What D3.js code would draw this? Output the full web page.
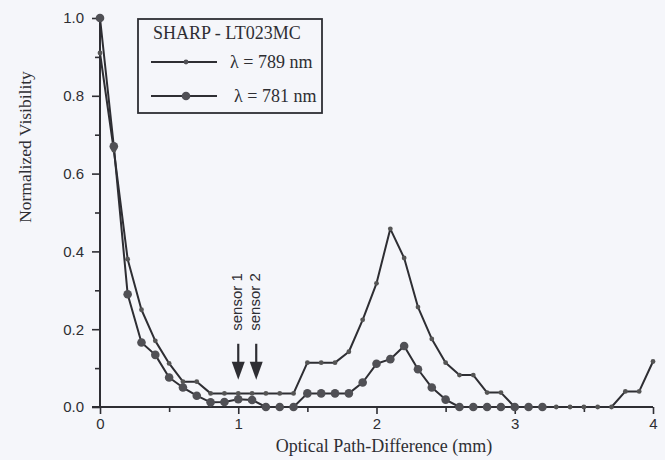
<!DOCTYPE html>
<html>
<head>
<meta charset="utf-8">
<script src="https://cdn.jsdelivr.net/npm/d3@7/dist/d3.min.js"></script>
<style>
  html, body { margin: 0; padding: 0; background: #f5f6fa; }
  svg { display: block; }
</style>
</head>
<body>
<script>
// ---- data ----
const opd789 = [0.0,0.1,0.2,0.3,0.4,0.5,0.6,0.7,0.8,0.9,1.0,1.1,1.2,1.3,1.4,1.5,1.6,1.7,1.8,1.9,2.0,
                2.1,2.2,2.3,2.4,2.5,2.6,2.7,2.8,2.9,3.0,3.1,3.2,3.3,3.4,3.5,3.6,3.7,3.8,3.9,4.0];
const vis789 = [0.91,0.66,0.38,0.25,0.17,0.112,0.065,0.065,0.035,0.035,0.035,0.035,0.035,0.035,0.035,
                0.114,0.114,0.114,0.142,0.224,0.318,0.458,0.383,0.257,0.175,0.114,0.082,0.082,0.037,0.037,
                0.0,0.0,0.0,0.0,0.0,0.0,0.0,0.0,0.04,0.04,0.117];
const opd781 = [0.0,0.1,0.2,0.3,0.4,0.5,0.6,0.7,0.8,0.9,1.0,1.1,1.2,1.3,1.4,1.5,1.6,1.7,1.8,1.9,2.0,
                2.1,2.2,2.3,2.4,2.5,2.6,2.7,2.8,2.9,3.0,3.1,3.2];
const vis781 = [1.0,0.67,0.29,0.166,0.134,0.076,0.05,0.029,0.012,0.013,0.02,0.018,0.0,0.0,0.0,
                0.035,0.035,0.035,0.035,0.063,0.111,0.123,0.157,0.097,0.05,0.019,0.0,0.0,0.0,0.0,0.0,0.0,0.0];
const xMajorTicks = [0,1,2,3,4];
const xMinorTicks = [0.5,1.5,2.5,3.5];
const yMajorTicks = [0,0.2,0.4,0.6,0.8,1.0];
const yMinorTicks = [0.1,0.3,0.5,0.7,0.9];
const legendTitle = "SHARP - LT023MC";
const seriesNames = ["\u03BB = 789 nm", "\u03BB = 781 nm"];
const sensorLabels = ["sensor 1", "sensor 2"];
const sensorOpd = [1.0, 1.13];
const sensorTip = 0.07;
const xTitle = "Optical Path-Difference (mm)";
const yTitle = "Normalized Visibility";

// ---- drawing ----
const W = 665, H = 460;
const ink = "#2e2e33";
const sans = "'Liberation Sans', Arial, sans-serif";
const serif = "'Liberation Serif', 'Times New Roman', serif";

const svg = d3.select("body").append("svg").attr("width", W).attr("height", H);
svg.append("rect").attr("width", W).attr("height", H).attr("fill", "#f5f6fa");

const x = d3.scaleLinear().domain([0, 4]).range([100, 653]);
const y = d3.scaleLinear().domain([0, 1]).range([407, 18]);

// axes
function styleAxis(g) {
  g.select(".domain").attr("stroke", ink).attr("stroke-width", 2);
  g.selectAll(".tick line").attr("stroke", ink).attr("stroke-width", 1.6);
  g.selectAll(".tick text").attr("fill", ink).attr("font-family", sans).attr("font-size", 15);
}
const gx = svg.append("g").attr("transform", `translate(0,${y(0)})`)
  .call(d3.axisBottom(x).tickValues(xMajorTicks).tickSize(7).tickPadding(4).tickFormat(d3.format("d")))
  .call(styleAxis);
const gxm = svg.append("g").attr("transform", `translate(0,${y(0)})`)
  .call(d3.axisBottom(x).tickValues(xMinorTicks).tickSize(5).tickFormat(""))
  .call(styleAxis);
gxm.select(".domain").remove();

const gy = svg.append("g").attr("transform", `translate(${x(0)},0)`)
  .call(d3.axisLeft(y).tickValues(yMajorTicks).tickSize(8).tickPadding(8).tickFormat(d3.format(".1f")))
  .call(styleAxis);
const gym = svg.append("g").attr("transform", `translate(${x(0)},0)`)
  .call(d3.axisLeft(y).tickValues(yMinorTicks).tickSize(5).tickFormat(""))
  .call(styleAxis);
gym.select(".domain").remove();
gy.select(".domain").attr("d", `M0,${y(1)}V${y(0)}`);
gx.select(".domain").attr("d", `M${x(0)-8},0H${x(4)}`);

// axis titles
svg.append("text").attr("x", 384).attr("y", 452).attr("text-anchor", "middle")
  .attr("font-family", serif).attr("font-size", 18).attr("fill", ink).text(xTitle);
svg.append("text").attr("transform", "translate(31,147) rotate(-90)").attr("text-anchor", "middle")
  .attr("font-family", serif).attr("font-size", 17.5).attr("fill", ink).text(yTitle);

// series
const d789 = opd789.map((o, i) => [o, vis789[i]]);
const d781 = opd781.map((o, i) => [o, vis781[i]]);
const line = d3.line().x(d => x(d[0])).y(d => y(d[1]));

svg.append("path").datum(d789).attr("d", line).attr("fill", "none")
  .attr("stroke", ink).attr("stroke-width", 2).attr("stroke-linejoin", "round");
svg.append("path").datum(d781).attr("d", line).attr("fill", "none")
  .attr("stroke", ink).attr("stroke-width", 2).attr("stroke-linejoin", "round");

svg.append("g").selectAll("circle").data(d789).join("circle")
  .attr("cx", d => x(d[0])).attr("cy", d => y(d[1])).attr("r", 2.4).attr("fill", "#555");
svg.append("g").selectAll("circle").data(d781).join("circle")
  .attr("cx", d => x(d[0])).attr("cy", d => y(d[1])).attr("r", 4.3).attr("fill", "#505055");

// sensor annotations
const sg = svg.append("g");
sensorOpd.forEach((o, i) => {
  const cx = x(o), tipY = y(sensorTip);
  sg.append("line").attr("x1", cx).attr("x2", cx).attr("y1", tipY - 36).attr("y2", tipY - 12)
    .attr("stroke", ink).attr("stroke-width", 2.2);
  sg.append("path").attr("d", `M${cx-6.5},${tipY-18}L${cx+6.5},${tipY-18}L${cx},${tipY}Z`).attr("fill", ink);
  sg.append("text").attr("transform", `translate(${cx + 4},${tipY - 49}) rotate(-90)`)
    .attr("font-family", sans).attr("font-size", 15).attr("fill", ink).text(sensorLabels[i]);
});

// legend
const lg = svg.append("g");
lg.append("rect").attr("x", 138).attr("y", 19).attr("width", 184).attr("height", 94)
  .attr("fill", "none").attr("stroke", ink).attr("stroke-width", 1.8);
lg.append("text").attr("x", 153).attr("y", 39).attr("font-family", serif).attr("font-size", 18)
  .attr("fill", ink).text(legendTitle);
const rowY = [62, 96], rowR = [2.4, 4.3], textX = [230, 234];
rowY.forEach((ry, i) => {
  lg.append("line").attr("x1", 151).attr("x2", 217).attr("y1", ry).attr("y2", ry)
    .attr("stroke", ink).attr("stroke-width", 2);
  lg.append("circle").attr("cx", 186).attr("cy", ry).attr("r", rowR[i]).attr("fill", "#505055");
  lg.append("text").attr("x", textX[i]).attr("y", ry + 6).attr("font-family", serif).attr("font-size", 18)
    .attr("fill", ink).text(seriesNames[i]);
});
</script>
</body>
</html>
